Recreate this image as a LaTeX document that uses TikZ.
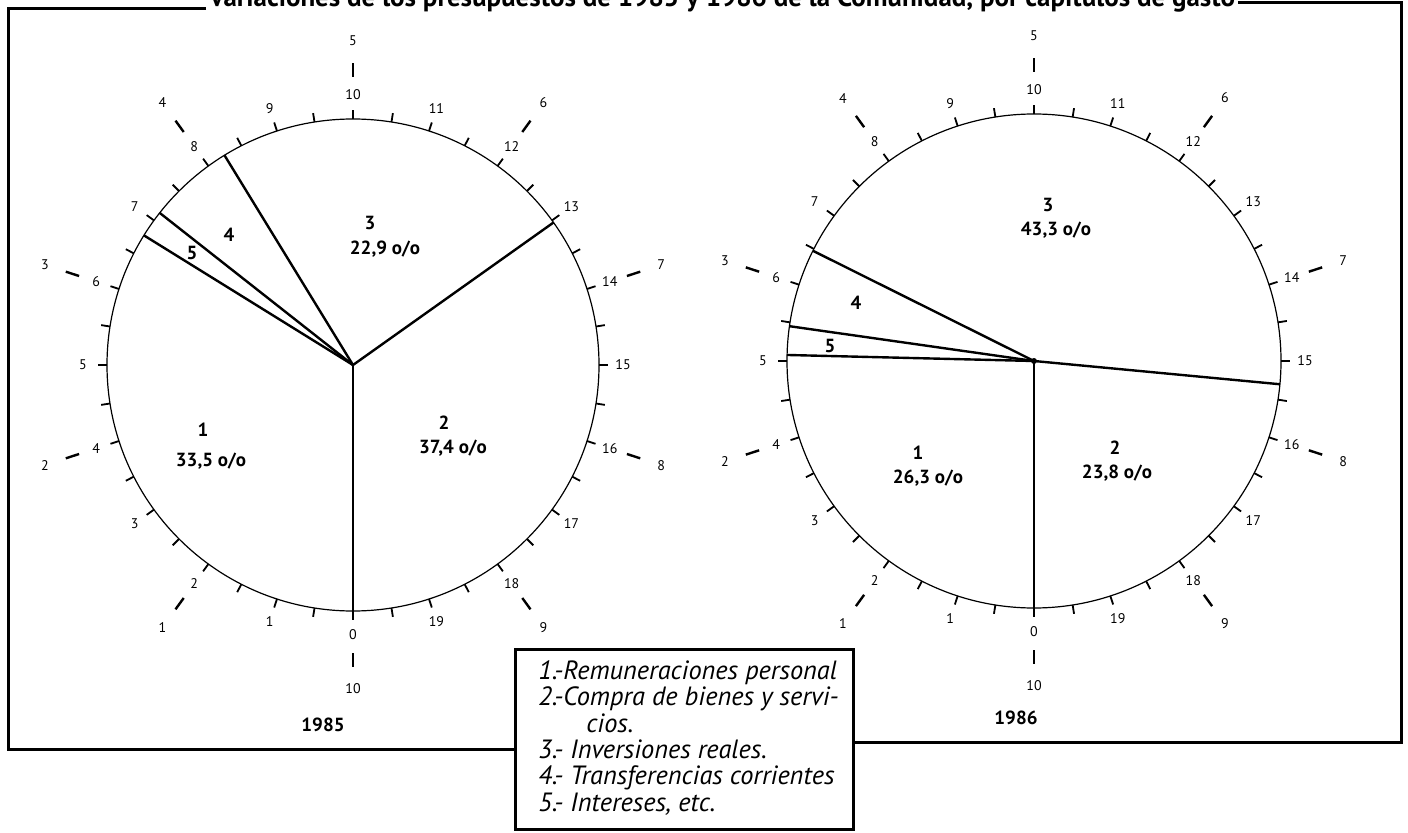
\documentclass[tikz,border=0pt]{standalone}
\usepackage{fontspec}
\setmainfont{PT Sans}
\usetikzlibrary{calc}

\tikzset{
  rim/.style={line width=0.6pt},
  wedge/.style={line width=1.2pt},
  rimtick/.style={line width=0.9pt},
  outtick/.style={line width=1.2pt},
  frame/.style={line width=1.5pt},
  scalelabel/.style={font=\fontsize{7}{8}\selectfont, inner sep=0pt},
  part/.style={font=\fontsize{9.5}{10}\selectfont\bfseries, inner sep=0pt},
  yearlabel/.style={font=\fontsize{9.5}{10}\selectfont\bfseries, inner sep=0pt},
  legtext/.style={font=\fontsize{13.2}{13.2}\selectfont\itshape, align=left, inner sep=0pt},
}

\begin{document}
\begin{tikzpicture}[x=0.5pt,y=0.5pt]
  \useasboundingbox (0,0) rectangle (1408,832);

  % title, cut by the top edge
  \node[anchor=base, font=\fontsize{13.5}{15}\selectfont\bfseries] (title) at (722,825)
    {Variaciones de los presupuestos de 1985 y 1986 de la Comunidad, por capítulos de gasto};

  % legend
  \node[draw, frame, minimum width=169pt, minimum height=90pt, inner sep=0pt] (leg) at (684,93) {};
  \node[legtext, anchor=north west] (legtxt) at (538,172)
    {1.-Remuneraciones personal\\
     2.-Compra de bienes y servi-\\
     \hspace*{24pt}cios.\\
     3.- Inversiones reales.\\
     4.- Transferencias corrientes\\
     5.- Intereses, etc.};

  % frame
  \coordinate (fbl) at (8,83);
  \coordinate (fbr) at (1401,90);
  \draw[frame] (206,823) -- (8,823) -- (fbl) -- (leg.west |- fbl);
  \draw[frame] (leg.east |- fbr) -- (fbr) -- (1401,829) -- (1238,829);

  % the two dials
  \coordinate (c85) at (353,467);
  \coordinate (c86) at (1034,471);

  \foreach \ctr/\rad in {c85/246, c86/247} {
    \pgfmathsetmacro{\rtick}{\rad+9}
    \pgfmathsetmacro{\rlab}{\rad+24}
    \pgfmathsetmacro{\routa}{\rad+42}
    \pgfmathsetmacro{\routb}{\rad+56}
    \pgfmathsetmacro{\routl}{\rad+78}
    \draw[rim] (\ctr) circle (\rad);
    \foreach \k [evaluate=\k as \a using -90-\k*9] in {0,...,39}
      \draw[rimtick] ([shift={(\ctr)}]\a:\rad) -- ([shift={(\ctr)}]\a:\rtick);
    \foreach \k [evaluate=\k as \a using -90-\k*18] in {0,...,19}
      \node[scalelabel] (\ctr-in\k) at ([shift={(\ctr)}]\a:\rlab) {\k};
    \foreach \k [evaluate=\k as \a using -90-\k*36] in {1,...,10} {
      \draw[outtick] ([shift={(\ctr)}]\a:\routa) -- ([shift={(\ctr)}]\a:\routb);
      \node[scalelabel] (\ctr-out\k) at ([shift={(\ctr)}]\a:\routl) {\k};
    }
  }

  % 1985
  \draw[wedge, line width=0.9pt] (c85) -- ([shift={(c85)}]-90:246);
  \foreach \a in {35.4,121.5,141.8,148.2}
    \draw[wedge] (c85) -- ([shift={(c85)}]\a:246);
  \node[part] (p85-3) at (370,609) {3};
  \node[part] (v85-3) at (385,583) {22,9 o/o};
  \node[part] (p85-4) at (229,597) {4};
  \node[part] (p85-5) at (192,579) {5};
  \node[part] (p85-1) at (203,402) {1};
  \node[part] (v85-1) at (211,371) {33,5 o/o};
  \node[part] (p85-2) at (444,409) {2};
  \node[part] (v85-2) at (453,384) {37,4 o/o};
  \node[yearlabel] (y85) at (323,107) {1985};

  % 1986
  \draw[wedge, line width=0.9pt] (c86) -- ([shift={(c86)}]-90:247);
  \foreach \a in {-5.4,153.5,171.9,178.6}
    \draw[wedge] (c86) -- ([shift={(c86)}]\a:247);
  \fill (c86) circle (3);
  \node[part] (p86-3) at (1048,627) {3};
  \node[part] (v86-3) at (1056,602) {43,3 o/o};
  \node[part] (p86-4) at (856,529) {4};
  \node[part] (p86-5) at (830,486) {5};
  \node[part] (p86-1) at (918,379) {1};
  \node[part] (v86-1) at (928,354) {26,3 o/o};
  \node[part] (p86-2) at (1115,384) {2};
  \node[part] (v86-2) at (1117,359) {23,8 o/o};
  \node[yearlabel] (y86) at (1016,114) {1986};

\end{tikzpicture}
\end{document}
